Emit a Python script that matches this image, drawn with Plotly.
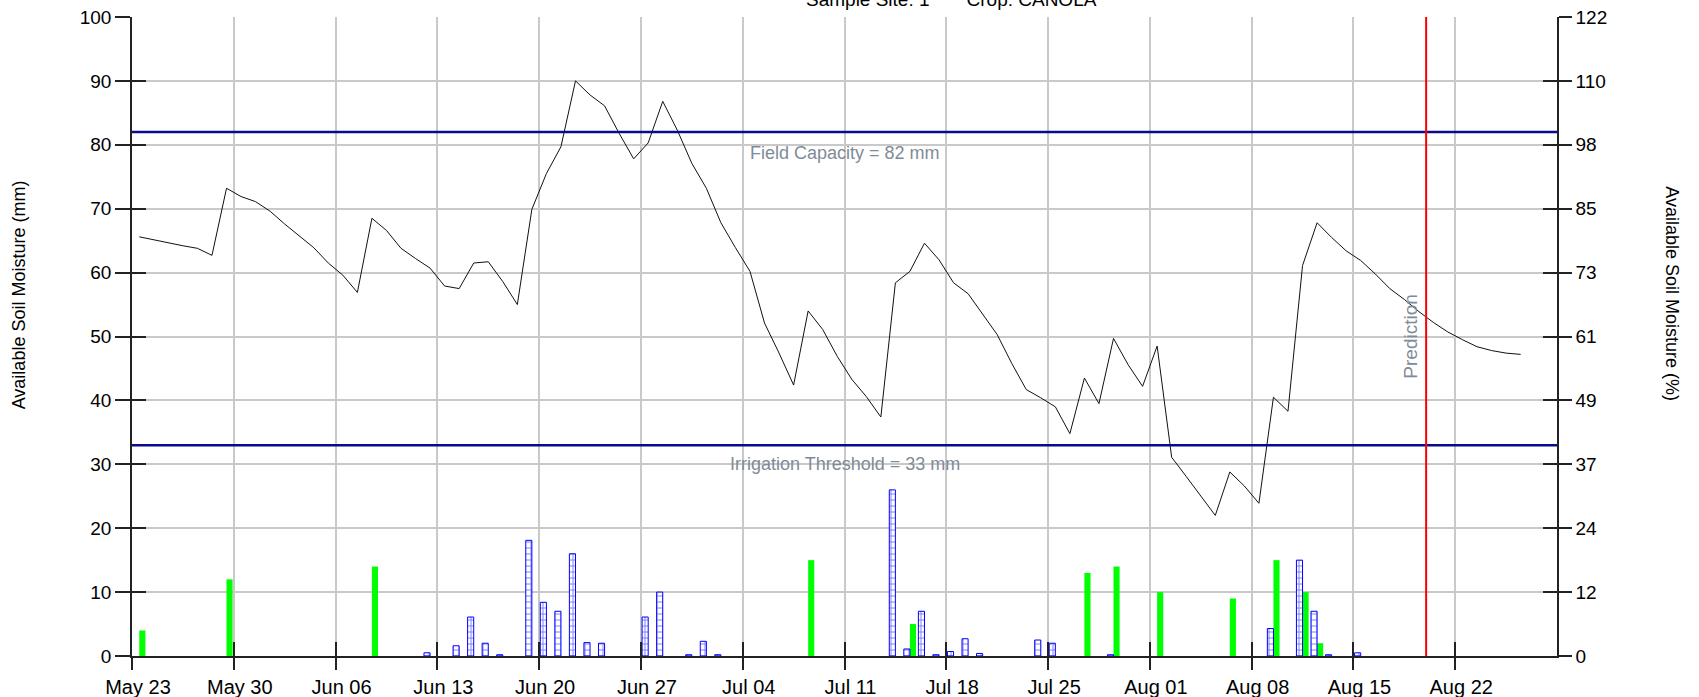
import pandas as pd
import plotly.graph_objects as go

# daily available soil moisture (mm), one value per day from the start date
start_date = "2023-05-23"
end_date = "2023-08-29"
last_tick = "2023-08-22"
prediction_date = "2023-08-20"
moisture = [
    65.6, 65.1, 64.7, 64.2, 63.8, 62.7, 73.2, 71.9, 71.1, 69.6,
    67.6, 65.8, 63.9, 61.5, 59.6, 56.9, 68.5, 66.6, 63.8, 62.2,
    60.7, 57.9, 57.5, 61.5, 61.7, 58.6, 55.0, 69.9, 75.5, 79.7,
    90.0, 87.8, 86.1, 81.8, 77.8, 80.3, 86.8, 82.3, 77.1, 73.2,
    67.8, 63.9, 60.2, 52.1, 47.4, 42.4, 54.0, 51.1, 46.9, 43.3,
    40.6, 37.4, 58.4, 60.2, 64.6, 62.0, 58.4, 56.7, 53.4, 50.3,
    45.8, 41.7, 40.4, 39.0, 34.8, 43.5, 39.5, 49.7, 45.6, 42.2,
    48.5, 31.1, 28.1, 25.0, 22.0, 28.8, 26.6, 23.9, 40.5, 38.3,
    61.1, 67.8, 65.5, 63.4, 61.9, 59.8, 57.5, 55.8, 53.9, 52.2,
    50.7, 49.5, 48.4, 47.8, 47.4, 47.2,
]

rain_dates = [
    "2023-06-12", "2023-06-14", "2023-06-15", "2023-06-16", "2023-06-17",
    "2023-06-19", "2023-06-20", "2023-06-21", "2023-06-22", "2023-06-23",
    "2023-06-24", "2023-06-27", "2023-06-28", "2023-06-30", "2023-07-01",
    "2023-07-02", "2023-07-14", "2023-07-15", "2023-07-16", "2023-07-17",
    "2023-07-18", "2023-07-19", "2023-07-20", "2023-07-24", "2023-07-25",
    "2023-07-29", "2023-08-09", "2023-08-11", "2023-08-12", "2023-08-13",
    "2023-08-15",
]
rain_mm = [
    0.5, 1.6, 6.1, 2.0, 0.2,
    18.1, 8.4, 7.0, 16.0, 2.1,
    2.0, 6.1, 10.0, 0.2, 2.3,
    0.2, 26.0, 1.1, 7.0, 0.2,
    0.7, 2.7, 0.4, 2.5, 2.0,
    0.2, 4.3, 15.0, 7.0, 0.2,
    0.5,
]

irrigation_dates = [
    "2023-05-23", "2023-05-29", "2023-06-08", "2023-07-08", "2023-07-15",
    "2023-07-27", "2023-07-29", "2023-08-01", "2023-08-06", "2023-08-09",
    "2023-08-11", "2023-08-12",
]
irrigation_mm = [4, 12, 14, 15, 5, 13, 14, 10, 9, 15, 10, 2]

field_capacity = 82
irrigation_threshold = 33

left_ticks = [0, 10, 20, 30, 40, 50, 60, 70, 80, 90, 100]
right_tick_text = ["0", "12", "24", "37", "49", "61", "73", "85", "98", "110", "122"]

FONT = "Arial, Liberation Sans, sans-serif"
GRID = "#c9c9c9"
AXIS = "#222222"
LABEL_GREY = "#7f8b98"
NAVY = "#0a0a8c"
BLUE = "#0000ff"
DAY = 86400000
BAR_W = 0.42 * DAY

line_x = pd.date_range(pd.Timestamp(start_date) + pd.Timedelta(hours=12),
                       periods=len(moisture), freq="D")
week_ticks = pd.date_range(start_date, last_tick, freq="7D")

fig = go.Figure()

# rain: hatched blue, left half of the day slot
fig.add_trace(go.Bar(
    x=pd.to_datetime(rain_dates), y=rain_mm, name="Rain",
    xaxis="x2", yaxis="y3",
    width=BAR_W, offset=0.5 * DAY - BAR_W,
    marker=dict(color="white", line=dict(color=BLUE, width=1),
                pattern=dict(shape="+", fgcolor=BLUE, bgcolor="white",
                             size=6, solidity=0.3)),
))

# irrigation: solid green, right half of the day slot
fig.add_trace(go.Bar(
    x=pd.to_datetime(irrigation_dates), y=irrigation_mm, name="Irrigation",
    xaxis="x", yaxis="y2",
    width=BAR_W, offset=0.5 * DAY,
    marker=dict(color="#00ff00", line=dict(width=0)),
))

# threshold lines
for level in (field_capacity, irrigation_threshold):
    fig.add_trace(go.Scatter(
        x=[start_date, end_date], y=[level, level], mode="lines",
        xaxis="x2", yaxis="y4", line=dict(color=NAVY, width=2.5),
        hoverinfo="skip",
    ))

fig.add_trace(go.Scatter(
    x=line_x, y=moisture, mode="lines", name="Soil moisture",
    xaxis="x", yaxis="y", line=dict(color="#111111", width=1),
))

fig.add_vline(x=prediction_date, line=dict(color="#ff0000", width=2))

fig.add_annotation(x=0.5, xref="paper", y=field_capacity, yref="y",
                   text=f"Field Capacity = {field_capacity} mm", showarrow=False,
                   xanchor="center", yshift=-21,
                   font=dict(size=18, color=LABEL_GREY, family=FONT))
fig.add_annotation(x=0.5, xref="paper", y=irrigation_threshold, yref="y",
                   text=f"Irrigation Threshold = {irrigation_threshold} mm", showarrow=False,
                   xanchor="center", yshift=-19,
                   font=dict(size=18, color=LABEL_GREY, family=FONT))
fig.add_annotation(x=prediction_date, xref="x", y=0.5, yref="paper",
                   text="Prediction", textangle=-90, showarrow=False, xshift=-16,
                   xanchor="center", font=dict(size=19, color=LABEL_GREY, family=FONT))

fig.add_annotation(x=-0.0793, xref="paper", y=0.566, yref="paper",
                   text="Available Soil Moisture (mm)", textangle=-90, showarrow=False,
                   xanchor="center", yanchor="middle",
                   font=dict(size=18, color="black", family=FONT))
fig.add_annotation(x=1.0807, xref="paper", y=0.566, yref="paper",
                   text="Available Soil Moisture (%)", textangle=90, showarrow=False,
                   xanchor="center", yanchor="middle",
                   font=dict(size=18, color="black", family=FONT))
fig.add_annotation(x=0.5754, xref="paper", y=1, yref="paper", yanchor="middle",
                   xanchor="center", yshift=18,
                   text="Sample Site: 1" + "\u00a0" * 7 + "Crop: CANOLA",
                   showarrow=False, font=dict(size=19, color="black", family=FONT))

x_common = dict(type="date", range=[start_date, end_date], tickvals=week_ticks,
                automargin=False)
y_common = dict(range=[0, 100], tickvals=left_ticks, zeroline=False,
                automargin=False)

fig.update_layout(
    width=1699, height=697,
    margin=dict(l=132, r=142, t=17, b=41),
    paper_bgcolor="white", plot_bgcolor="white",
    showlegend=False, barmode="overlay",
    font=dict(family=FONT, size=18, color="black"),
    xaxis=dict(**x_common, tickformat="%b %d", showgrid=True, gridcolor=GRID,
               gridwidth=1.5, showline=True, linecolor=AXIS, linewidth=1.5,
               ticks="outside", ticklen=12, tickcolor=AXIS, tickwidth=1.5,
               ticklabelshift=6, tickfont=dict(size=20)),
    xaxis2=dict(**x_common, overlaying="x", anchor="y", side="bottom",
                showgrid=False, showticklabels=False, ticks="inside",
                ticklen=14, tickcolor=AXIS, tickwidth=1.5),
    yaxis=dict(**y_common, showgrid=True, gridcolor=GRID, gridwidth=1.5,
               showline=True, linecolor=AXIS, linewidth=1.5,
               ticks="outside", ticklen=15, tickcolor=AXIS, tickwidth=1.5,
               tickfont=dict(size=19)),
    yaxis2=dict(**y_common, overlaying="y", side="right", anchor="x",
                ticktext=right_tick_text, showgrid=False, showline=True,
                linecolor=AXIS, linewidth=1.5, ticks="outside", ticklen=13,
                tickcolor=AXIS, tickwidth=1.5, tickfont=dict(size=19)),
    yaxis3=dict(**y_common, overlaying="y", side="left", anchor="x2",
                showgrid=False, showticklabels=False, ticks="inside",
                ticklen=14, tickcolor=AXIS, tickwidth=1.5),
    yaxis4=dict(**y_common, overlaying="y", side="right", anchor="x2",
                showgrid=False, showticklabels=False, ticks="inside",
                ticklen=14, tickcolor=AXIS, tickwidth=1.5),
)

# the page's default body margin would shift the figure; remove it
fig.write_html("out.html", config={"displayModeBar": False},
               post_script="document.body.style.margin='0';")
